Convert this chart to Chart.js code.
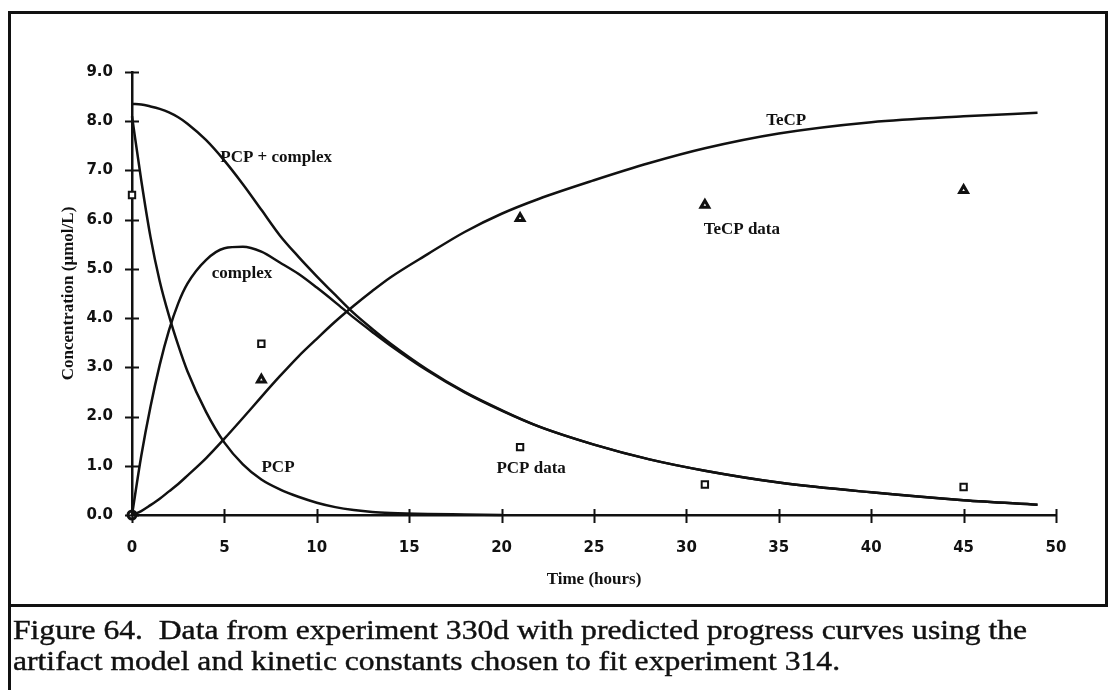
<!DOCTYPE html>
<html>
<head>
<meta charset="utf-8">
<script src="https://cdn.jsdelivr.net/npm/chart.js@4.4.1/dist/chart.umd.min.js"></script>
<style>
  html, body { margin: 0; padding: 0; background: #fff; }
  #wrap { position: relative; width: 1112px; height: 690px; overflow: hidden; background: #fff; }
  #chart { position: absolute; left: 0; top: 0; }
  .rule { position: absolute; background: #111; }
  #caption {
    position: absolute; left: 13px; top: 615px;
    font-family: "Liberation Serif", "Times New Roman", serif;
    font-size: 27px; line-height: 31px; color: #111;
    -webkit-text-stroke: 0.4px #111;
    white-space: nowrap; transform-origin: 0 0;
  }
</style>
</head>
<body>
<div id="wrap">
  <canvas id="chart" width="1112" height="690"></canvas>
  <div class="rule" style="left:8px; top:11px; width:1100px; height:3px;"></div>
  <div class="rule" style="left:8px; top:11px; width:3px; height:679px;"></div>
  <div class="rule" style="left:1105px; top:11px; width:3px; height:596px;"></div>
  <div class="rule" style="left:8px; top:604px; width:1100px; height:3px;"></div>
  <div id="caption"><span id="capLine">Figure 64.&nbsp; Data from experiment 330d with predicted progress curves using the</span><br>artifact model and kinetic constants chosen to fit experiment 314.</div>
</div>
<script>
// ===== DATA =====
const curveTime = [0, 0.5, 1, 1.5, 2, 2.5, 3, 4, 5, 6, 7, 8, 9, 10, 11, 12, 13, 14, 16, 18, 20, 22, 25, 28, 31, 35, 40, 45, 49];
const totalCurve = [8.35, 8.34, 8.3, 8.25, 8.18, 8.08, 7.95, 7.62, 7.2, 6.72, 6.2, 5.68, 5.25, 4.85, 4.47, 4.1, 3.78, 3.48, 2.95, 2.5, 2.13, 1.8, 1.43, 1.13, 0.9, 0.66, 0.46, 0.3, 0.21];
const complexCurve = [0, 1.2, 2.2, 3.05, 3.75, 4.3, 4.7, 5.18, 5.42, 5.45, 5.35, 5.13, 4.9, 4.62, 4.32, 4.01, 3.72, 3.44, 2.93, 2.49, 2.12, 1.8, 1.43, 1.13, 0.9, 0.66, 0.46, 0.3, 0.21];
const tecpCurve = [0, 0.08, 0.2, 0.33, 0.48, 0.63, 0.8, 1.15, 1.55, 1.97, 2.4, 2.82, 3.22, 3.58, 3.93, 4.25, 4.55, 4.83, 5.3, 5.75, 6.12, 6.42, 6.8, 7.15, 7.45, 7.75, 7.98, 8.1, 8.17];

const pcpTime = [0, 0.5, 1, 1.5, 2, 2.5, 3, 4, 5, 6, 7, 8, 9, 10, 11, 12, 13, 14, 16, 18, 20];
const pcpCurve = [8.1, 6.8, 5.65, 4.75, 4.05, 3.45, 2.92, 2.1, 1.47, 1.03, 0.72, 0.52, 0.37, 0.25, 0.16, 0.1, 0.06, 0.04, 0.02, 0.01, 0];

const sampleTime = [0, 7, 21, 31, 45];
const pcpData = [6.5, 3.48, 1.38, 0.62, 0.57];
const tecpData = [0, 2.75, 6.03, 6.3, 6.6];

const xTicks = [0, 5, 10, 15, 20, 25, 30, 35, 40, 45, 50];
const yTicks = [0, 1, 2, 3, 4, 5, 6, 7, 8, 9];

// curve / point labels (text + where they sit, in data units)
const notes = [
    { text: 'PCP + complex', x: 7.8, y: 7.27 },
    { text: 'complex', x: 5.95, y: 4.91 },
    { text: 'PCP', x: 7.9, y: 0.97 },
    { text: 'PCP data', x: 21.6, y: 0.95 },
    { text: 'TeCP', x: 35.4, y: 8.02 },
    { text: 'TeCP data', x: 33.0, y: 5.79 },
];

const toPts = (xs, ys) => xs.map((x, i) => ({ x, y: ys[i] }));

const INK = '#111';
const tickFont = { family: '"DejaVu Sans", sans-serif', size: 15, weight: 'bold' };
const serifBold = { family: '"Liberation Serif", "Times New Roman", serif', size: 17, weight: 'bold' };

function curve(label, pts) {
    return {
        label, data: pts, showLine: true, borderColor: INK, borderWidth: 2.5,
        pointRadius: 0, cubicInterpolationMode: 'monotone', fill: false, clip: 6,
    };
}

// ticks that cross the axis line, like the original
const crossTicks = {
    id: 'crossTicks',
    afterDraw(chart) {
        const { ctx, scales: { x, y } } = chart;
        ctx.save();
        ctx.strokeStyle = INK;
        ctx.lineWidth = 2;
        ctx.beginPath();
        xTicks.forEach(v => {
            const px = Math.round(x.getPixelForValue(v)) + 0.5;
            ctx.moveTo(px, y.bottom - 6);
            ctx.lineTo(px, y.bottom + 8);
        });
        yTicks.forEach(v => {
            const py = Math.round(y.getPixelForValue(v)) + 0.5;
            ctx.moveTo(x.left - 7, py);
            ctx.lineTo(x.left + 7, py);
        });
        ctx.stroke();

        ctx.fillStyle = INK;
        ctx.font = 'bold 17px "Liberation Serif", "Times New Roman", serif';
        ctx.textAlign = 'center';
        ctx.textBaseline = 'middle';
        notes.forEach(n => ctx.fillText(n.text, x.getPixelForValue(n.x), y.getPixelForValue(n.y)));
        ctx.restore();
    }
};

new Chart(document.getElementById('chart'), {
    type: 'scatter',
    data: {
        datasets: [
            curve('PCP + complex', toPts(curveTime, totalCurve)),
            curve('complex', toPts(curveTime, complexCurve)),
            curve('TeCP', toPts(curveTime, tecpCurve)),
            curve('PCP', toPts(pcpTime, pcpCurve)),
            {
                label: 'PCP data', data: toPts(sampleTime, pcpData),
                pointStyle: 'rect', pointRadius: 4.5, borderWidth: 2,
                borderColor: INK, backgroundColor: '#fff', clip: false,
            },
            {
                label: 'TeCP data', data: toPts(sampleTime, tecpData),
                pointStyle: ['circle', 'triangle', 'triangle', 'triangle', 'triangle'],
                pointRadius: [4, 4.5, 4.5, 4.5, 4.5], borderWidth: 3,
                borderColor: INK, backgroundColor: '#fff', clip: false,
            },
        ]
    },
    options: {
        responsive: false,
        animation: false,
        layout: { padding: { left: 0, right: 56, top: 72, bottom: 0 } },
        plugins: { legend: { display: false }, tooltip: { enabled: false } },
        scales: {
            x: {
                type: 'linear', min: 0, max: 50,
                afterFit: s => { s.height = 175; },
                afterBuildTicks: s => { s.ticks = xTicks.map(value => ({ value })); },
                ticks: { color: INK, font: tickFont, padding: 24 },
                grid: { drawOnChartArea: false, drawTicks: false },
                border: { color: INK, width: 2.5 },
                title: { display: true, text: 'Time (hours)', color: INK, font: serifBold, padding: { top: 0, bottom: 100 } },
            },
            y: {
                type: 'linear', min: 0, max: 9,
                afterFit: s => { s.width = 132; },
                afterBuildTicks: s => { s.ticks = yTicks.map(value => ({ value })); },
                ticks: { color: INK, font: tickFont, padding: 19, callback: v => v.toFixed(1) },
                grid: { drawOnChartArea: false, drawTicks: false },
                border: { color: INK, width: 2.5 },
                title: { display: true, text: 'Concentration (µmol/L)', color: INK, font: serifBold, padding: { top: 58, bottom: 0 } },
            },
        }
    },
    plugins: [crossTicks]
});

// caption: stretch the first line to the width it has in the scan
const cap = document.getElementById('caption');
const lineW = document.getElementById('capLine').getBoundingClientRect().width;
cap.style.transform = 'scaleX(' + (1014 / lineW).toFixed(3) + ')';
</script>
</body>
</html>
